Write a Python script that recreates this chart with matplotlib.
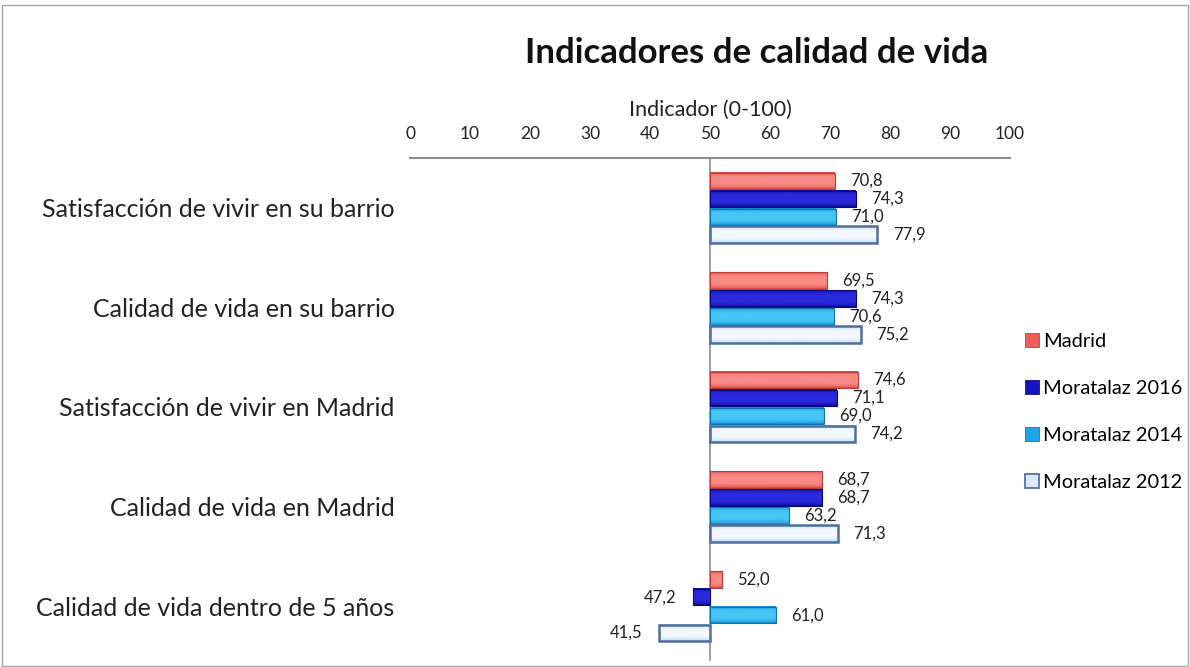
import matplotlib
matplotlib.use("Agg")
import matplotlib.pyplot as plt
import numpy as np
from matplotlib.patches import Rectangle, Patch
from matplotlib.colors import to_rgb

categories = ["Satisfacción de vivir en su barrio", "Calidad de vida en su barrio",
              "Satisfacción de vivir en Madrid", "Calidad de vida en Madrid",
              "Calidad de vida dentro de 5 años"]
series_names = ["Madrid", "Moratalaz 2016", "Moratalaz 2014", "Moratalaz 2012"]
madrid = [70.8, 69.5, 74.6, 68.7, 52.0]
mor2016 = [74.3, 74.3, 71.1, 68.7, 47.2]
mor2014 = [71.0, 70.6, 69.0, 63.2, 61.0]
mor2012 = [77.9, 75.2, 74.2, 71.3, 41.5]
xticks = [0, 10, 20, 30, 40, 50, 60, 70, 80, 90, 100]
origin = 50

series = [madrid, mor2016, mor2014, mor2012]
dark = ["#D8413C", "#06068C", "#0D88CC", "#AFCFEA"]
light = ["#F98A85", "#2A2ADC", "#45C6F7", "#F2F8FE"]
mid = ["#EE5D58", "#1515C0", "#1CA6EA", "#DCEBF8"]
edges = ["#C23A35", "#08087A", "#0C72B0", "#4E6E9E"]
lws = [0.8, 0.8, 0.8, 1.8]
offsets = [-0.27, -0.09, 0.09, 0.27]
height = 0.165

plt.rcParams['font.family'] = ['Lato', 'DejaVu Sans']

fig = plt.figure(figsize=(11.9, 6.67), dpi=100)
ax = fig.add_axes([410/1190, 1-656/667, 600/1190, (656-158)/667])

t = np.linspace(0, 1, 40)
prof = np.clip(np.sin(np.pi * t) ** 0.5 * 1.15 - 0.05 * t, 0, 1)

for s, vals in enumerate(series):
    ys = [i + offsets[s] for i in range(len(categories))]
    widths = [v - origin for v in vals]
    bars = ax.barh(ys, widths, left=origin, height=height, color="none",
                   edgecolor=edges[s], linewidth=lws[s], zorder=4)
    d = np.array(to_rgb(dark[s])); l = np.array(to_rgb(light[s]))
    grad = d[None, :] * (1 - prof[:, None]) + l[None, :] * prof[:, None]
    img = grad[:, None, :]
    for rect in bars:
        x0, y0 = rect.get_x(), rect.get_y()
        w, h = rect.get_width(), rect.get_height()
        ax.imshow(img, extent=[x0, x0 + w, y0 + h, y0], aspect="auto",
                  interpolation="bilinear", clip_path=rect, zorder=3)
    for y, v in zip(ys, vals):
        txt = f"{v:.1f}".replace(".", ",")
        if v >= origin:
            ax.annotate(txt, (v, y), xytext=(11, 0), textcoords="offset points",
                        ha="left", va="center", fontsize=12, color="#222222")
        else:
            ax.annotate(txt, (v, y), xytext=(-12, 0), textcoords="offset points",
                        ha="right", va="center", fontsize=12, color="#222222")

ax.set_xlim(0, 100)
ax.set_ylim(4.5, -0.5)
ax.xaxis.tick_top()
ax.xaxis.set_label_position("top")
ax.set_xticks(xticks)
ax.set_xticklabels([str(t) for t in xticks], fontsize=12.5, color="#222222")
ax.tick_params(axis="x", length=0, pad=11.5)
ax.set_xlabel("Indicador (0-100)", fontsize=15.5, color="#222222", labelpad=7)
ax.set_yticks(range(len(categories)))
ax.set_yticklabels(categories, fontsize=18, color="#222222")
ax.tick_params(axis="y", length=0, pad=11)
for sp in ["left", "right", "bottom"]:
    ax.spines[sp].set_visible(False)
ax.spines["top"].set_color("#8C8C8C")
ax.spines["top"].set_linewidth(1.5)
ax.plot([origin, origin], [-0.5, 4.54], color="#8C8C8C", lw=1.2, clip_on=False, zorder=2)

handles = [Patch(facecolor=mid[s], edgecolor=edges[s], linewidth=lws[s] * 0.7)
           for s in range(len(series))]
ax.legend(handles, series_names, loc="upper left", bbox_to_anchor=(1.012, 0.665),
          frameon=False, fontsize=14.4, handlelength=0.7, handleheight=0.7,
          handletextpad=0.2, labelspacing=1.5, borderaxespad=0)

fig.text(757/1190, 1-53/667, "Indicadores de calidad de vida", ha="center", va="center",
         fontsize=25, fontweight="bold", color="#111111")

fig.patches.append(Rectangle((0.002, 0.002), 0.996, 0.99, transform=fig.transFigure,
                             fill=False, edgecolor="#A6A6A6", lw=1))

fig.savefig("out.png", dpi=100)
